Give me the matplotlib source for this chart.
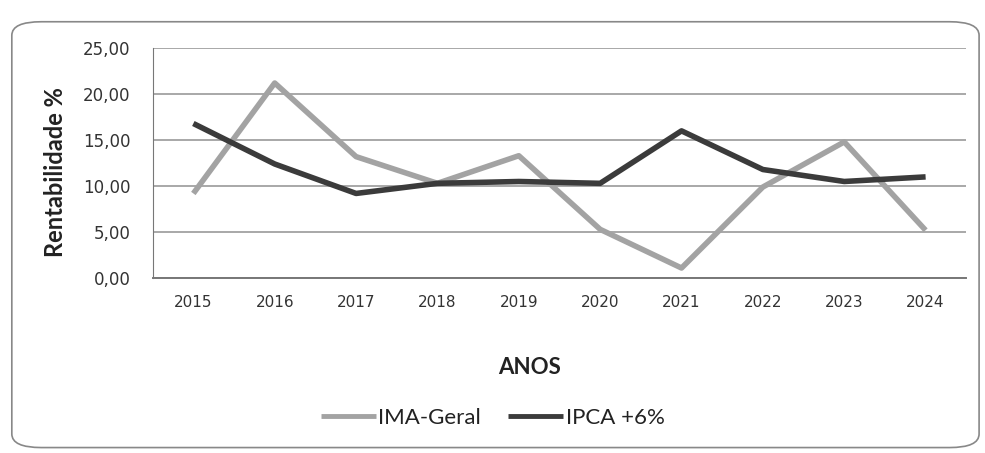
import numpy as np
import matplotlib.pyplot as plt
from matplotlib.patches import FancyBboxPatch

# data
anos = ['2015', '2016', '2017', '2018', '2019', '2020', '2021', '2022', '2023', '2024']
ima_geral = [9.2, 21.2, 13.2, 10.3, 13.3, 5.3, 1.1, 9.9, 14.8, 5.2]
ipca_6 = [16.8, 12.4, 9.2, 10.3, 10.5, 10.3, 16.0, 11.8, 10.5, 11.0]
yticks = [0, 5, 10, 15, 20, 25]

fig = plt.figure(figsize=(9.85, 4.53), dpi=100)
ax = fig.add_axes((0.155, 0.386, 0.826, 0.508))

x = np.arange(len(anos))
ax.plot(x, ima_geral, '-', color='#a3a3a3', lw=4, label='IMA-Geral', solid_capstyle='butt')
ax.plot(x, ipca_6, '-', color='#3b3b3b', lw=4, label='IPCA +6%', solid_capstyle='butt')

ax.set_xlim(-0.5, len(anos) - 0.5)
ax.set_ylim(0, 25)
ax.set_yticks(yticks)
ax.set_yticklabels([('%.2f' % v).replace('.', ',') for v in yticks], fontsize=12, color='#333333')
ax.set_xticks(x)
ax.set_xticklabels(anos, fontsize=11, color='#333333')
ax.tick_params(axis='both', length=0)
ax.tick_params(axis='y', pad=16)
ax.tick_params(axis='x', pad=12)

ax.grid(axis='y', color='#9a9a9a', lw=1.2)
ax.set_axisbelow(True)
for s in ['top', 'right']:
    ax.spines[s].set_visible(False)
ax.spines['left'].set_color('#777777')
ax.spines['bottom'].set_color('#777777')
ax.spines['bottom'].set_linewidth(1.4)

fig.text(0.056, 0.62, 'Rentabilidade %', rotation=90, ha='center', va='center',
         fontsize=17, fontweight='bold', family='Lato', color='#222222')
fig.text(0.538, 0.188, 'ANOS', ha='center', va='center',
         fontsize=16, fontweight='bold', family='Lato', color='#222222')

leg = fig.legend(loc='center', bbox_to_anchor=(0.50, 0.077), ncol=2, frameon=False,
                 handlelength=2.5, handletextpad=0.1, columnspacing=1.2,
                 prop={'family': 'Lato', 'size': 16})
for t in leg.get_texts():
    t.set_color('#222222')
for h in leg.get_lines():
    h.set_linewidth(3.5)

# rounded outer border
box = FancyBboxPatch((0.022, 0.022), 0.962, 0.92, boxstyle='round,pad=0.01,rounding_size=0.03',
                     transform=fig.transFigure, fill=False, ec='#888888', lw=1.2)
fig.patches.append(box)

plt.savefig('out.png', dpi=100)
